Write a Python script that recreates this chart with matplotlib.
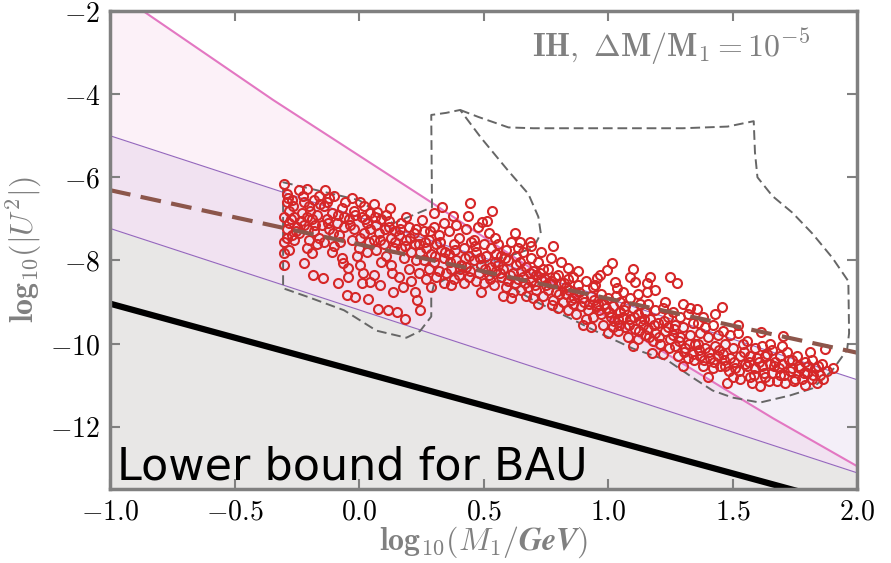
import numpy as np
import matplotlib
matplotlib.use('Agg')
import matplotlib.pyplot as plt

plt.rcParams['mathtext.fontset'] = 'cm'
plt.rcParams['font.family'] = 'serif'
plt.rcParams['font.serif'] = ['DejaVu Serif']

# --- data ---
xticks = [-1.0, -0.5, 0.0, 0.5, 1.0, 1.5, 2.0]
xtick_labels = ['$-1.0$', '$-0.5$', '$0.0$', '$0.5$', '$1.0$', '$1.5$', '$2.0$']
yticks = [-12, -10, -8, -6, -4, -2]
ytick_labels = ['$-12$', '$-10$', '$-8$', '$-6$', '$-4$', '$-2$']

# pink upper bound (slightly curved)
pink_x = [-1.0, -0.867, -0.345, 0.297, 0.807, 1.181, 1.663, 2.0]
pink_y = [-1.45, -2.0, -4.14, -6.63, -8.65, -10.05, -11.8, -12.95]

# purple band (two parallel lines)
purple_x = [-1.0, 2.0]
purple_hi = [-5.0, -10.87]
purple_lo = [-7.23, -13.11]

# lower bound for BAU (black)
bau_x = [-1.0, 2.0]
bau_y = [-9.04, -13.94]

# brown dashed line
brown_x = [-1.0, 2.0]
brown_y = [-6.31, -10.22]

# dashed contours
contA_x = [-0.305, 0.0, 0.137, 0.293, 0.29, 0.35, 0.406, 0.49, 0.6, 0.68, 0.72, 0.73, 0.70,
           0.6, 0.47, 0.38, 0.30, 0.29, 0.29, 0.245, 0.19, 0.07, -0.06, -0.2, -0.305, -0.305]
contA_y = [-6.12, -6.55, -7.11, -6.72, -4.5, -4.45, -4.38, -5.05, -5.85, -6.4, -6.95, -7.35, -7.7,
           -7.9, -8.1, -8.35, -8.6, -8.85, -9.35, -9.7, -9.86, -9.69, -9.2, -8.89, -8.67, -6.12]
contB_x = [0.406, 0.48, 0.6, 0.7, 1.3, 1.48, 1.585, 1.59, 1.6, 1.66, 1.74, 1.82, 1.9, 1.965,
           1.968, 1.96, 1.9, 1.82, 1.73, 1.61, 1.5, 1.42, 1.34, 1.24, 1.1, 0.97, 0.84, 0.7,
           0.62, 0.54, 0.47]
contB_y = [-4.38, -4.55, -4.8, -4.82, -4.82, -4.78, -4.65, -5.4, -6.0, -6.45, -6.85, -7.35,
           -7.93, -8.5, -9.75, -10.15, -10.65, -11.08, -11.25, -11.42, -11.3, -11.13, -10.82,
           -10.41, -10.12, -9.76, -9.37, -8.96, -8.67, -8.41, -8.15]

# scan points (estimated positions)
points = [
    (-0.30, -6.15), (-0.29, -6.4), (-0.29, -6.6), (-0.28, -6.8), (-0.30, -6.95), (-0.28, -7.1),
    (-0.29, -7.25), (-0.27, -7.4), (-0.30, -7.55), (-0.28, -7.75), (-0.30, -7.83), (-0.30, -8.12),
    (-0.27, -6.55), (-0.26, -6.95), (-0.25, -7.2), (-0.26, -7.5),
    (-0.24, -6.3), (-0.21, -6.27), (-0.22, -6.6), (-0.23, -6.85), (-0.20, -6.7), (-0.19, -7.0),
    (-0.22, -7.15), (-0.18, -7.3), (-0.24, -7.35), (-0.20, -7.5), (-0.17, -7.6), (-0.21, -7.7),
    (-0.22, -8.07), (-0.19, -7.81), (-0.185, -8.36), (-0.16, -6.45), (-0.17, -6.9), (-0.15, -7.15),
    (-0.16, -7.45), (-0.145, -8.43), (-0.21, -6.95), (-0.18, -6.55),
    (-0.137, -6.31), (-0.12, -6.5), (-0.14, -6.7), (-0.10, -6.45), (-0.11, -6.85), (-0.13, -7.0),
    (-0.09, -7.1), (-0.12, -7.25), (-0.08, -7.4), (-0.14, -7.55), (-0.10, -7.65), (-0.07, -6.75),
    (-0.06, -6.95), (-0.084, -8.55), (-0.064, -8.07), (-0.068, -7.93), (-0.048, -8.84),
    (-0.044, -8.41), (-0.044, -8.19), (-0.06, -7.2), (-0.11, -7.8), (-0.13, -6.6),
    (-0.03, -6.5), (0.004, -6.6), (-0.02, -6.8), (0.02, -6.7), (-0.04, -7.0), (0.01, -6.95),
    (0.03, -7.1), (-0.02, -7.25), (0.02, -7.35), (-0.03, -7.5), (0.04, -7.55), (0.0, -7.7),
    (-0.016, -8.89), (0.036, -8.94), (0.004, -8.12), (0.016, -8.31), (0.012, -8.55), (0.044, -8.53),
    (-0.01, -7.9), (0.03, -7.8), (0.045, -6.85),
    (0.072, -6.84), (0.06, -6.65), (0.09, -7.0), (0.11, -6.9), (0.07, -7.15), (0.12, -7.2),
    (0.08, -7.35), (0.13, -7.45), (0.06, -7.5), (0.10, -7.6), (0.14, -7.7), (0.07, -7.75),
    (0.11, -7.9), (0.084, -8.6), (0.076, -9.16), (0.116, -9.2), (0.133, -8.31), (0.137, -8.77),
    (0.09, -8.05), (0.13, -8.1), (0.06, -8.35), (0.12, -7.05), (0.145, -7.3),
    (0.153, -9.25), (0.185, -9.4), (0.177, -8.65), (0.225, -8.77), (0.233, -8.96), (0.245, -9.2),
    (0.17, -7.1), (0.20, -7.2), (0.253, -7.03), (0.16, -7.4), (0.19, -7.5), (0.22, -7.35),
    (0.24, -7.6), (0.17, -7.7), (0.21, -7.8), (0.18, -7.95), (0.23, -8.0), (0.20, -8.2),
    (0.16, -8.4), (0.24, -8.3), (0.21, -8.5), (0.19, -6.95), (0.23, -7.25),
    (0.26, -7.3), (0.28, -7.5), (0.30, -7.2), (0.32, -7.4), (0.27, -7.7), (0.29, -7.85),
    (0.31, -7.6), (0.33, -7.75), (0.26, -8.0), (0.30, -8.05), (0.34, -7.95), (0.28, -8.2),
    (0.32, -8.25), (0.27, -8.45), (0.31, -8.4), (0.35, -8.3), (0.30, -6.85), (0.34, -7.1),
    (0.333, -6.72), (0.29, -8.65), (0.34, -8.55),
    (0.378, -6.92), (0.36, -7.3), (0.40, -7.45), (0.38, -7.6), (0.42, -7.7), (0.36, -7.85),
    (0.44, -7.9), (0.39, -8.0), (0.41, -8.1), (0.37, -8.2), (0.43, -8.15), (0.40, -8.35),
    (0.44, -8.4), (0.38, -8.45), (0.42, -8.55), (0.446, -6.63), (0.438, -6.92), (0.43, -7.25),
    (0.39, -7.15), (0.45, -7.55), (0.37, -8.6),
    (0.478, -7.2), (0.494, -7.08), (0.514, -7.04), (0.534, -6.8), (0.46, -7.5), (0.50, -7.6),
    (0.53, -7.7), (0.47, -7.8), (0.51, -7.9), (0.55, -7.85), (0.46, -8.0), (0.49, -8.1),
    (0.53, -8.15), (0.48, -8.3), (0.52, -8.35), (0.55, -8.25), (0.47, -8.5), (0.50, -8.55),
    (0.54, -8.6), (0.49, -8.75), (0.52, -7.35), (0.545, -7.45),
    (0.56, -7.6), (0.59, -7.75), (0.627, -7.33), (0.61, -7.55), (0.64, -7.7), (0.57, -7.9),
    (0.60, -8.0), (0.63, -8.1), (0.58, -8.2), (0.62, -8.3), (0.65, -8.25), (0.57, -8.4),
    (0.60, -8.5), (0.64, -8.45), (0.59, -8.65), (0.62, -8.75), (0.65, -8.7), (0.61, -8.9),
    (0.58, -8.85), (0.63, -7.9), (0.56, -8.1), (0.647, -7.56), (0.687, -7.56),
    (0.66, -7.8), (0.69, -7.95), (0.72, -8.05), (0.67, -8.15), (0.70, -8.25), (0.74, -8.2),
    (0.66, -8.4), (0.69, -8.5), (0.73, -8.45), (0.68, -8.65), (0.71, -8.7), (0.75, -8.6),
    (0.67, -8.85), (0.70, -8.9), (0.74, -8.85), (0.72, -9.05), (0.69, -7.65), (0.73, -7.8),
    (0.71, -8.35),
    (0.76, -8.2), (0.78, -7.66), (0.80, -8.35), (0.84, -8.19), (0.77, -8.5), (0.81, -8.55),
    (0.84, -8.45), (0.76, -8.7), (0.79, -8.75), (0.83, -8.8), (0.78, -8.95), (0.82, -9.0),
    (0.85, -8.95), (0.775, -9.08), (0.80, -9.15), (0.84, -9.2), (0.81, -8.05), (0.77, -7.95),
    (0.83, -8.65),
    (0.86, -8.4), (0.88, -8.6), (0.91, -8.5), (0.94, -8.65), (0.87, -8.8), (0.90, -8.9),
    (0.93, -8.85), (0.86, -9.05), (0.89, -9.1), (0.92, -9.2), (0.95, -9.1), (0.87, -9.3),
    (0.91, -9.4), (0.94, -9.35), (0.90, -9.55), (0.948, -8.6), (0.88, -8.25), (0.93, -9.6),
    (0.956, -8.43), (0.968, -8.36), (0.996, -8.24), (1.016, -8.07), (1.028, -8.53), (1.036, -8.67),
    (0.97, -8.8), (1.00, -8.9), (1.03, -8.85), (0.96, -9.05), (0.99, -9.15), (1.02, -9.1),
    (1.05, -9.0), (0.97, -9.3), (1.01, -9.35), (1.04, -9.4), (0.98, -9.55), (1.02, -9.6),
    (1.05, -9.25), (1.00, -9.75), (1.04, -9.7),
    (1.088, -8.41), (1.10, -8.2), (1.108, -8.53), (1.06, -8.75), (1.09, -8.9), (1.12, -8.8),
    (1.07, -9.1), (1.10, -9.15), (1.13, -9.05), (1.06, -9.35), (1.09, -9.4), (1.12, -9.3),
    (1.15, -9.25), (1.07, -9.6), (1.11, -9.65), (1.14, -9.55), (1.08, -9.85), (1.12, -9.9),
    (1.15, -9.8), (1.10, -10.05), (1.13, -9.45),
    (1.157, -8.55), (1.157, -8.77), (1.169, -8.41), (1.189, -8.7), (1.229, -9.0), (1.25, -8.4),
    (1.16, -9.05), (1.19, -9.2), (1.22, -9.15), (1.17, -9.4), (1.20, -9.5), (1.24, -9.35),
    (1.16, -9.65), (1.19, -9.75), (1.23, -9.7), (1.18, -9.95), (1.21, -10.0), (1.25, -9.9),
    (1.177, -10.22), (1.22, -10.25), (1.24, -9.6),
    (1.277, -8.55), (1.301, -9.04), (1.26, -9.25), (1.29, -9.35), (1.32, -9.3), (1.27, -9.55),
    (1.30, -9.6), (1.34, -9.5), (1.26, -9.8), (1.29, -9.85), (1.33, -9.8), (1.27, -10.05),
    (1.31, -10.1), (1.35, -10.0), (1.28, -10.3), (1.32, -10.35), (1.30, -10.55), (1.34, -10.25),
    (1.33, -9.15),
    (1.357, -9.18), (1.43, -9.28), (1.36, -9.5), (1.39, -9.6), (1.42, -9.55), (1.37, -9.75),
    (1.40, -9.85), (1.44, -9.8), (1.36, -10.0), (1.39, -10.1), (1.43, -10.05), (1.37, -10.3),
    (1.41, -10.35), (1.44, -10.3), (1.38, -10.55), (1.42, -10.6), (1.40, -10.8), (1.45, -10.55),
    (1.38, -9.35),
    (1.458, -9.13), (1.46, -9.7), (1.49, -9.8), (1.52, -9.75), (1.47, -10.0), (1.50, -10.1),
    (1.54, -10.0), (1.46, -10.25), (1.49, -10.35), (1.53, -10.3), (1.47, -10.55), (1.51, -10.6),
    (1.55, -10.5), (1.478, -10.94), (1.50, -10.8), (1.53, -10.85), (1.52, -9.55),
    (1.614, -9.73), (1.56, -9.95), (1.59, -10.1), (1.62, -10.05), (1.65, -10.0), (1.57, -10.3),
    (1.60, -10.35), (1.63, -10.3), (1.56, -10.55), (1.59, -10.6), (1.62, -10.55), (1.65, -10.5),
    (1.57, -10.8), (1.61, -11.01), (1.63, -10.8), (1.58, -10.95), (1.64, -10.25),
    (1.703, -9.81), (1.66, -10.15), (1.69, -10.3), (1.72, -10.2), (1.67, -10.45), (1.70, -10.5),
    (1.74, -10.4), (1.66, -10.7), (1.69, -10.75), (1.73, -10.65), (1.68, -10.9), (1.71, -10.95),
    (1.75, -10.85), (1.70, -10.05), (1.74, -10.6),
    (1.76, -10.3), (1.79, -10.45), (1.82, -10.4), (1.77, -10.6), (1.80, -10.7), (1.83, -10.6),
    (1.78, -10.85), (1.79, -11.0), (1.82, -10.85), (1.85, -10.75), (1.871, -10.12), (1.86, -10.5),
    (1.88, -10.65), (1.904, -10.6), (1.84, -10.95), (1.81, -10.2),
    # denser core
    (-0.285, -6.5), (-0.265, -6.7), (-0.275, -7.0), (-0.255, -7.3), (-0.29, -7.45), (-0.235, -7.05),
    (-0.225, -6.45), (-0.205, -7.25), (-0.195, -6.8), (-0.175, -7.15), (-0.155, -6.65),
    (-0.125, -7.1), (-0.105, -7.35), (-0.085, -6.9), (-0.075, -7.55), (-0.055, -6.6),
    (-0.035, -7.15), (-0.015, -6.9), (0.005, -7.45), (0.025, -7.0), (0.045, -7.25), (0.065, -6.95),
    (0.085, -7.5), (0.105, -7.25), (0.125, -6.75), (0.145, -7.55), (0.165, -7.25), (0.185, -7.65),
    (0.205, -7.45), (0.225, -7.6), (0.245, -7.8), (0.265, -7.55), (0.285, -7.3), (0.305, -7.9),
    (0.325, -7.55), (0.345, -7.8), (0.365, -8.05), (0.385, -7.75), (0.405, -8.2), (0.425, -7.95),
    (0.445, -8.25), (0.465, -7.65), (0.485, -7.95), (0.505, -8.2), (0.525, -8.45), (0.545, -8.05),
    (0.565, -8.3), (0.585, -7.95), (0.605, -8.35), (0.625, -8.55), (0.645, -8.05), (0.665, -8.55),
    (0.685, -8.3), (0.705, -8.6), (0.725, -8.3), (0.745, -8.45), (0.765, -8.55), (0.785, -8.4),
    (0.805, -8.8), (0.825, -8.55), (0.845, -8.7), (0.865, -8.9), (0.885, -8.75), (0.905, -9.0),
    (0.925, -9.05), (0.945, -8.95), (0.965, -9.2), (0.985, -9.05), (1.005, -9.25), (1.025, -9.45),
    (1.045, -9.55), (1.065, -9.2), (1.085, -9.55), (1.105, -9.35), (1.125, -9.7), (1.145, -9.4),
    (1.165, -9.85), (1.185, -9.55), (1.205, -9.85), (1.225, -9.45), (1.245, -10.1), (1.265, -9.65),
    (1.285, -9.95), (1.305, -10.2), (1.325, -10.0), (1.345, -10.4), (1.365, -10.15), (1.385, -10.4),
    (1.405, -10.2), (1.425, -10.45), (1.445, -10.15), (1.465, -10.4), (1.485, -10.65),
    (1.505, -10.45), (1.525, -10.65), (1.545, -10.2), (1.565, -10.45), (1.585, -10.75),
    (1.605, -10.45), (1.625, -10.7), (1.645, -10.9), (1.665, -10.55), (1.685, -10.6),
    (1.705, -10.75), (1.725, -10.4), (1.745, -10.9), (1.765, -10.55), (1.785, -10.7),
    (1.805, -10.55), (1.825, -10.75), (1.845, -10.55), (1.865, -10.85),
]
pts_x = [p[0] for p in points]
pts_y = [p[1] for p in points]

fig = plt.figure(figsize=(8.91, 5.63), dpi=100)
ax = fig.add_axes([0.1235, 0.1314, 0.8384, 0.849])

ymin, ymax = -13.5, -2.0
grid_x = np.linspace(-1.0, 2.0, 301)
pink_on = np.interp(grid_x, pink_x, pink_y)
phi = np.interp(grid_x, purple_x, purple_hi)
plo = np.interp(grid_x, purple_x, purple_lo)

ax.fill_between(grid_x, ymin - 1, pink_on, color='#e377c2', alpha=0.1, lw=0)
ax.fill_between(grid_x, plo, phi, color='#9467bd', alpha=0.1, lw=0)
ax.fill_between(grid_x, ymin - 1, plo, color='#e8e7e6', lw=0)

ax.plot(pink_x, pink_y, color='#e377c2', lw=1.5)
ax.plot(purple_x, purple_hi, color='#9467bd', lw=0.8)
ax.plot(purple_x, purple_lo, color='#9467bd', lw=0.8)
ax.plot(bau_x, bau_y, color='k', lw=4.5)

ax.plot(contA_x, contA_y, color='#666666', lw=1.4, dashes=(5, 2.5))
ax.plot(contB_x, contB_y, color='#666666', lw=1.4, dashes=(5, 2.5))

ax.plot(pts_x, pts_y, 'o', ms=6.5, mfc='none', mec='#d62728', mew=1.5)

ax.plot(brown_x, brown_y, color='#8c564b', lw=3, dashes=(5, 2.5))

ax.set_xlim(-1.0, 2.0)
ax.set_ylim(ymin, ymax)
ax.set_xticks(xticks)
ax.set_xticklabels(xtick_labels)
ax.set_yticks(yticks)
ax.set_yticklabels(ytick_labels)
ax.tick_params(direction='in', top=True, right=True, length=7, width=1.5,
               color='#808080', labelsize=20, pad=7)
for s in ax.spines.values():
    s.set_color('#808080')
    s.set_linewidth(2.5)

ax.set_xlabel(r'$\mathbf{log_{10}(}\boldsymbol{M_1/GeV}\mathbf{)}$', fontsize=23,
              color='#808080', labelpad=-1)
ax.set_ylabel(r'$\mathbf{log_{10}(|}\boldsymbol{U^2}\mathbf{|)}$', fontsize=23,
              color='#808080', labelpad=4)

ax.text(0.937, 0.967, r'$\mathbf{IH,\ \Delta M/M_1 = 10^{-5}}$', transform=ax.transAxes,
        ha='right', va='top', fontsize=23, color='#808080')
ax.text(0.009, 0.019, 'Lower bound for BAU', transform=ax.transAxes, ha='left',
        va='baseline', fontsize=32, family='DejaVu Sans', color='k')

fig.savefig('out.png', dpi=100)
